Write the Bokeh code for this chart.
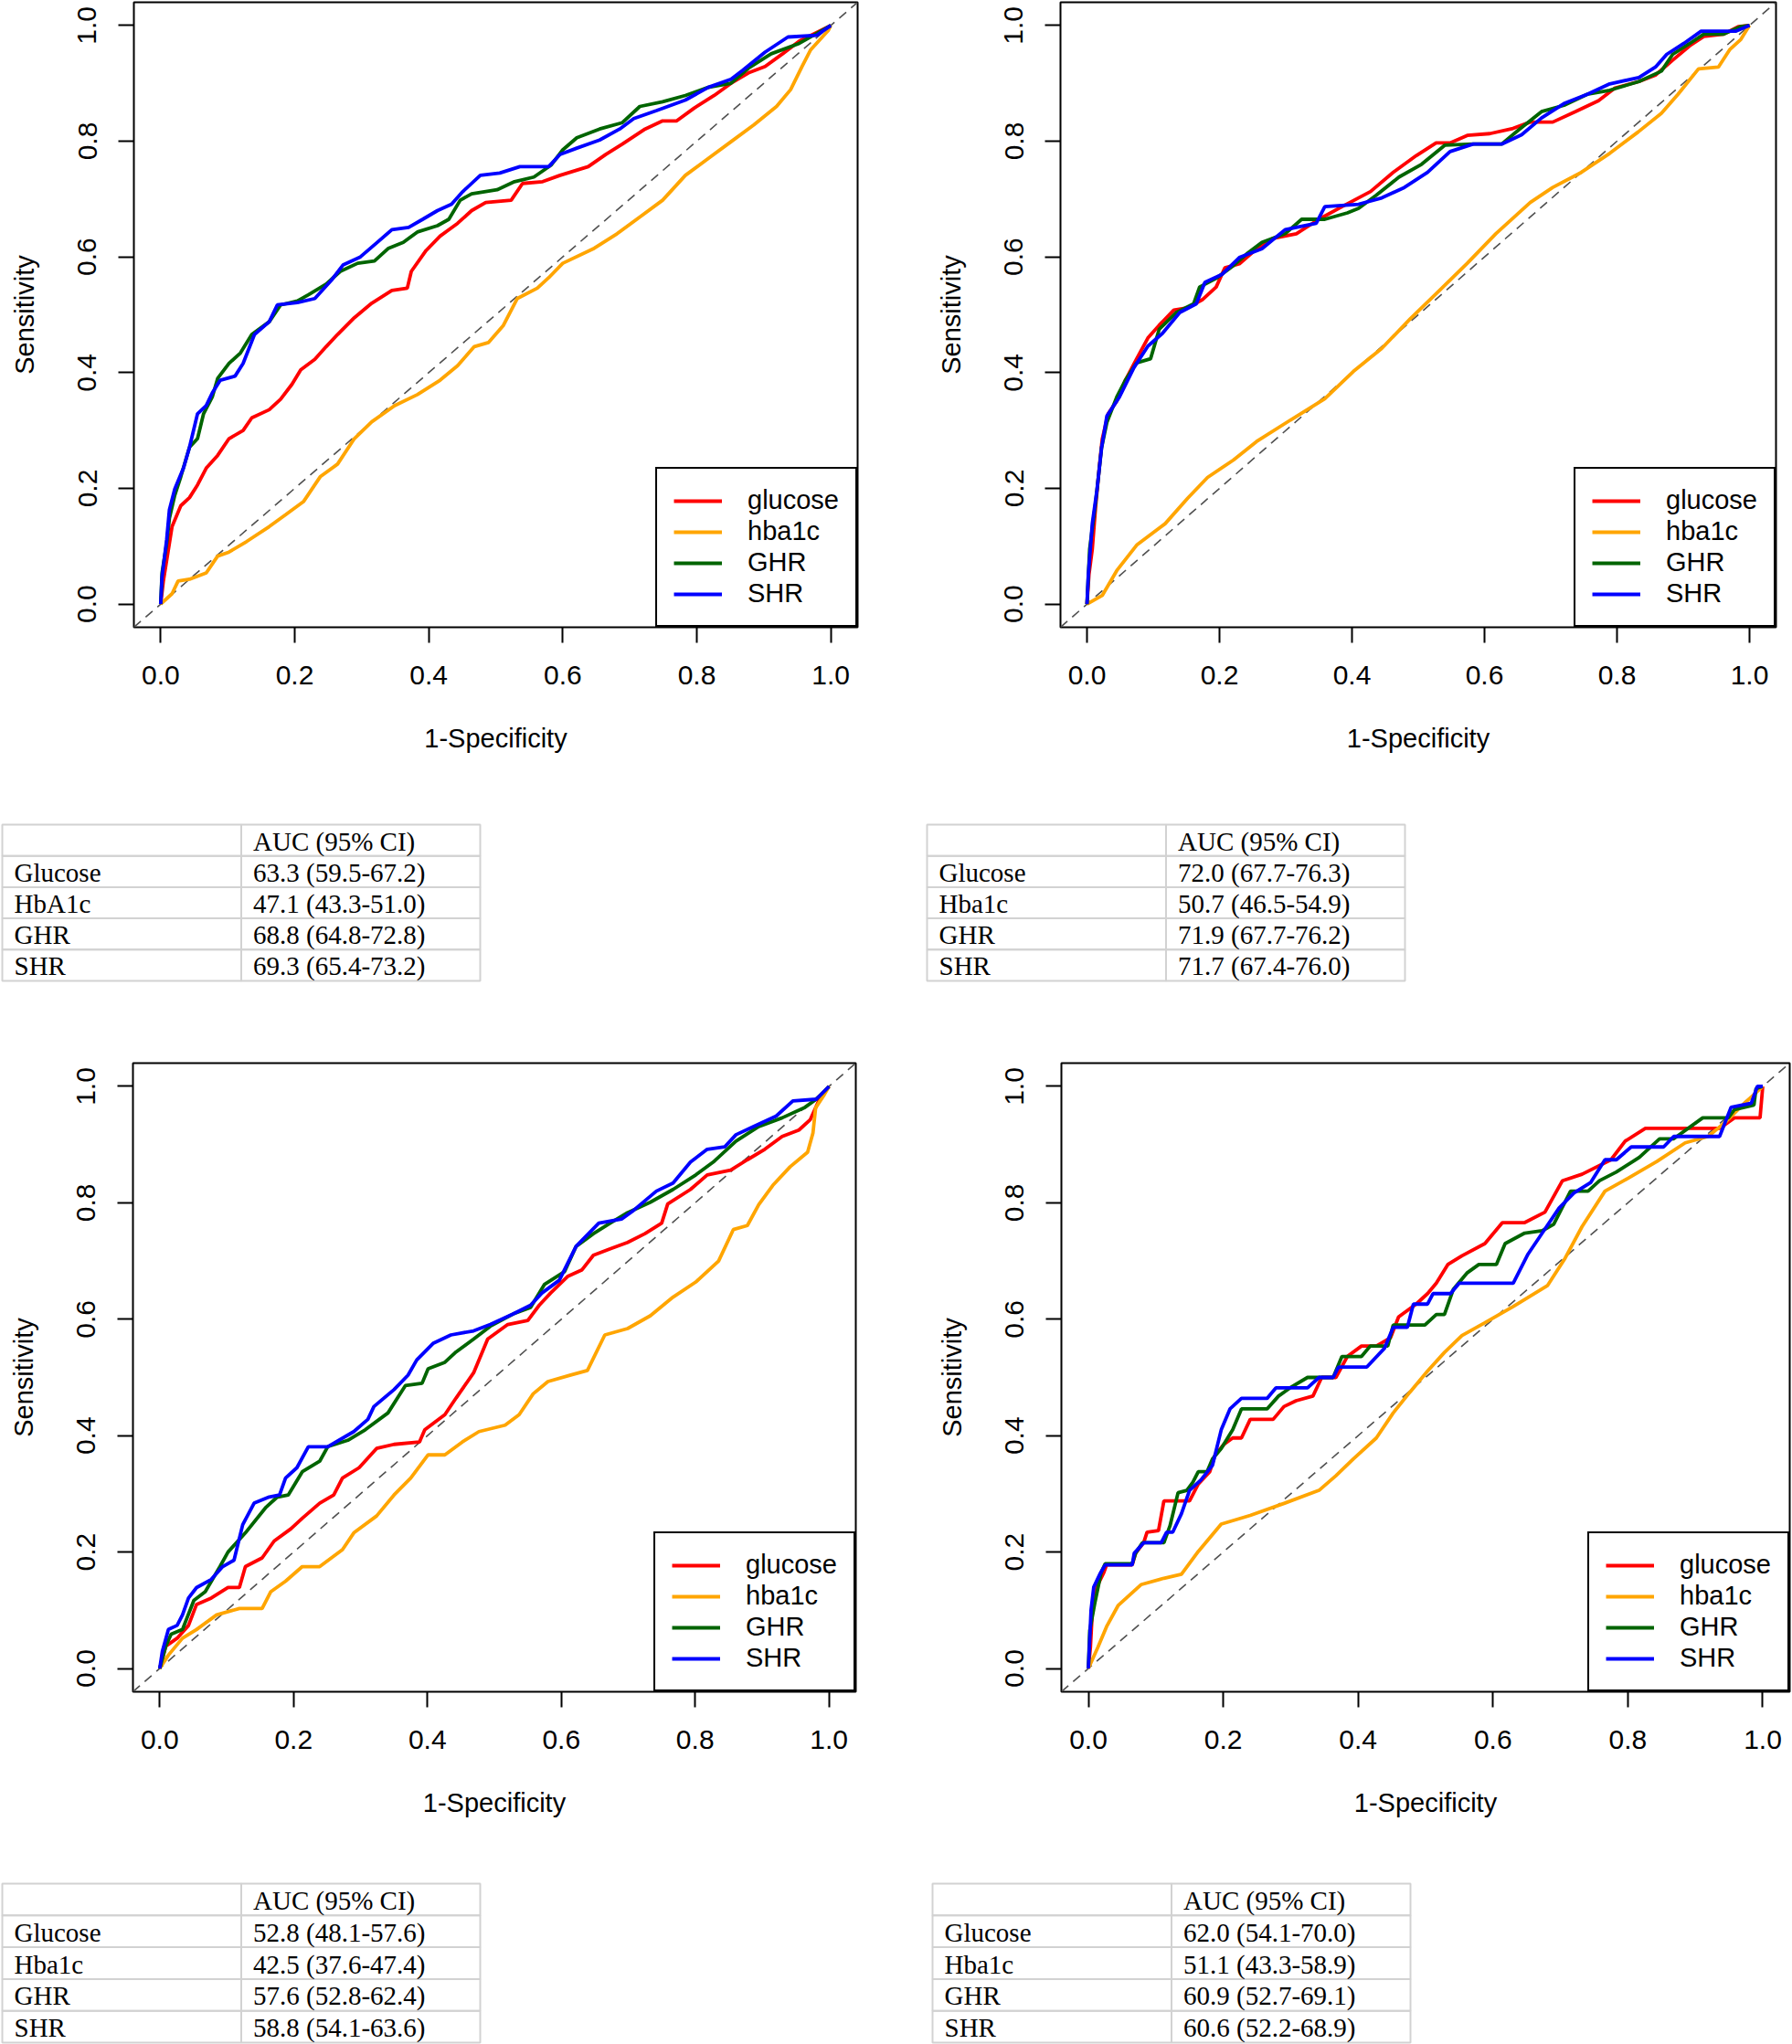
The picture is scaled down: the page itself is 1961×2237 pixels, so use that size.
from bokeh.plotting import figure
from bokeh.models import Range1d, FixedTicker, PrintfTickFormatter, Legend, LegendItem, Slope
from bokeh.layouts import column, row
from bokeh.core.properties import value
from bokeh.embed import file_html
from bokeh.resources import INLINE

# ---------------- data ----------------
SERIES_NAMES = ["glucose", "hba1c", "GHR", "SHR"]
SERIES_COLORS = ["#FF0000", "#FFA500", "#006400", "#0000FF"]
TICKS = [0.0, 0.2, 0.4, 0.6, 0.8, 1.0]
X_TITLE = "1-Specificity"
Y_TITLE = "Sensitivity"

# (1-specificity, sensitivity) points
TL_GLUCOSE = [(0, 0), (0.004, 0.04), (0.013, 0.105), (0.017, 0.134), (0.03, 0.17), (0.043, 0.184), (0.055, 0.206),
              (0.068, 0.235), (0.085, 0.257), (0.102, 0.286), (0.123, 0.30), (0.136, 0.322), (0.162, 0.336),
              (0.179, 0.354), (0.196, 0.38), (0.209, 0.405), (0.23, 0.423), (0.247, 0.445), (0.264, 0.466),
              (0.289, 0.495), (0.315, 0.52), (0.345, 0.542), (0.368, 0.546), (0.374, 0.575), (0.396, 0.611),
              (0.417, 0.636), (0.443, 0.658), (0.464, 0.68), (0.485, 0.694), (0.523, 0.698), (0.54, 0.727),
              (0.57, 0.73), (0.596, 0.741), (0.638, 0.756), (0.664, 0.777), (0.689, 0.795), (0.723, 0.821),
              (0.749, 0.835), (0.77, 0.835), (0.796, 0.857), (0.826, 0.879), (0.851, 0.9), (0.877, 0.918),
              (0.902, 0.929), (0.928, 0.951), (0.953, 0.973), (1, 1)]
TL_HBA1C = [(0, 0), (0.017, 0.018), (0.026, 0.04), (0.043, 0.043), (0.068, 0.054), (0.085, 0.083), (0.102, 0.09),
            (0.128, 0.108), (0.162, 0.134), (0.187, 0.155), (0.213, 0.177), (0.238, 0.22), (0.264, 0.242),
            (0.289, 0.286), (0.315, 0.315), (0.349, 0.343), (0.383, 0.362), (0.417, 0.387), (0.443, 0.412),
            (0.468, 0.445), (0.489, 0.452), (0.511, 0.481), (0.532, 0.528), (0.562, 0.546), (0.579, 0.564),
            (0.6, 0.589), (0.647, 0.615), (0.681, 0.64), (0.715, 0.669), (0.749, 0.698), (0.783, 0.741),
            (0.817, 0.77), (0.851, 0.799), (0.885, 0.828), (0.919, 0.86), (0.94, 0.889), (0.957, 0.929),
            (0.97, 0.958), (0.996, 0.991), (1, 1)]
TL_GHR = [(0, 0), (0.002, 0.054), (0.009, 0.105), (0.013, 0.148), (0.021, 0.188), (0.03, 0.22), (0.043, 0.271),
          (0.055, 0.286), (0.064, 0.329), (0.077, 0.358), (0.085, 0.39), (0.102, 0.416), (0.119, 0.434),
          (0.136, 0.466), (0.162, 0.488), (0.179, 0.517), (0.204, 0.524), (0.221, 0.535), (0.247, 0.553),
          (0.268, 0.575), (0.294, 0.589), (0.319, 0.593), (0.34, 0.615), (0.362, 0.625), (0.383, 0.643),
          (0.413, 0.654), (0.43, 0.665), (0.447, 0.698), (0.464, 0.709), (0.502, 0.716), (0.528, 0.73),
          (0.557, 0.738), (0.583, 0.759), (0.6, 0.785), (0.621, 0.806), (0.655, 0.821), (0.689, 0.832),
          (0.715, 0.86), (0.749, 0.868), (0.783, 0.879), (0.817, 0.893), (0.851, 0.9), (0.877, 0.926),
          (0.911, 0.951), (0.953, 0.969), (1, 1)]
TL_SHR = [(0, 0), (0.002, 0.047), (0.009, 0.112), (0.013, 0.163), (0.021, 0.199), (0.034, 0.235), (0.043, 0.271),
          (0.055, 0.329), (0.068, 0.343), (0.077, 0.365), (0.089, 0.387), (0.111, 0.394), (0.123, 0.416),
          (0.14, 0.466), (0.162, 0.488), (0.174, 0.517), (0.204, 0.521), (0.23, 0.528), (0.255, 0.56),
          (0.272, 0.586), (0.298, 0.6), (0.323, 0.625), (0.345, 0.647), (0.37, 0.651), (0.391, 0.665),
          (0.413, 0.68), (0.434, 0.691), (0.451, 0.713), (0.477, 0.741), (0.506, 0.745), (0.536, 0.756),
          (0.579, 0.756), (0.596, 0.777), (0.621, 0.788), (0.655, 0.802), (0.685, 0.821), (0.706, 0.839),
          (0.74, 0.853), (0.783, 0.871), (0.817, 0.893), (0.851, 0.907), (0.868, 0.922), (0.902, 0.954),
          (0.936, 0.98), (0.979, 0.983), (1, 1)]

TR_GLUCOSE = [(0, 0), (0.003, 0.051), (0.008, 0.095), (0.013, 0.168), (0.019, 0.241), (0.023, 0.285), (0.032, 0.329),
              (0.045, 0.351), (0.058, 0.387), (0.075, 0.424), (0.092, 0.46), (0.109, 0.482), (0.131, 0.508),
              (0.152, 0.512), (0.174, 0.526), (0.195, 0.548), (0.208, 0.581), (0.23, 0.588), (0.256, 0.614),
              (0.281, 0.632), (0.316, 0.64), (0.35, 0.665), (0.385, 0.687), (0.428, 0.713), (0.462, 0.746),
              (0.497, 0.775), (0.527, 0.797), (0.548, 0.797), (0.574, 0.81), (0.608, 0.813), (0.643, 0.822),
              (0.669, 0.833), (0.703, 0.833), (0.737, 0.851), (0.772, 0.87), (0.797, 0.892), (0.833, 0.903),
              (0.858, 0.914), (0.884, 0.94), (0.91, 0.965), (0.931, 0.981), (0.961, 0.985), (0.983, 0.998), (1, 1)]
TR_HBA1C = [(0, 0), (0.023, 0.015), (0.045, 0.058), (0.075, 0.102), (0.118, 0.139), (0.152, 0.183), (0.182, 0.219),
            (0.221, 0.249), (0.256, 0.281), (0.307, 0.318), (0.359, 0.355), (0.402, 0.402), (0.445, 0.442),
            (0.488, 0.493), (0.531, 0.541), (0.574, 0.589), (0.617, 0.64), (0.669, 0.694), (0.703, 0.72),
            (0.746, 0.746), (0.789, 0.779), (0.832, 0.816), (0.867, 0.848), (0.892, 0.881), (0.923, 0.925),
            (0.953, 0.928), (0.97, 0.958), (0.987, 0.976), (1, 1)]
TR_GHR = [(0, 0), (0.004, 0.095), (0.013, 0.175), (0.022, 0.27), (0.03, 0.314), (0.045, 0.358), (0.058, 0.387),
          (0.075, 0.417), (0.096, 0.424), (0.109, 0.475), (0.135, 0.504), (0.161, 0.519), (0.17, 0.548),
          (0.195, 0.563), (0.221, 0.585), (0.243, 0.607), (0.264, 0.625), (0.299, 0.64), (0.324, 0.665),
          (0.359, 0.665), (0.393, 0.676), (0.41, 0.684), (0.436, 0.706), (0.471, 0.738), (0.505, 0.76),
          (0.54, 0.793), (0.583, 0.795), (0.626, 0.795), (0.651, 0.819), (0.686, 0.851), (0.72, 0.862),
          (0.755, 0.881), (0.789, 0.888), (0.833, 0.903), (0.867, 0.921), (0.884, 0.95), (0.91, 0.969),
          (0.931, 0.985), (0.961, 0.985), (0.987, 0.998), (1, 1)]
TR_SHR = [(0, 0), (0.002, 0.051), (0.008, 0.139), (0.015, 0.197), (0.022, 0.27), (0.03, 0.325), (0.049, 0.358),
          (0.071, 0.409), (0.092, 0.446), (0.114, 0.468), (0.14, 0.504), (0.165, 0.519), (0.178, 0.556),
          (0.204, 0.57), (0.23, 0.599), (0.264, 0.614), (0.299, 0.647), (0.346, 0.658), (0.359, 0.687),
          (0.41, 0.691), (0.445, 0.702), (0.479, 0.72), (0.514, 0.746), (0.548, 0.782), (0.583, 0.795),
          (0.626, 0.795), (0.656, 0.811), (0.686, 0.84), (0.72, 0.865), (0.755, 0.881), (0.789, 0.899),
          (0.833, 0.91), (0.858, 0.928), (0.875, 0.95), (0.901, 0.969), (0.927, 0.99), (0.979, 0.99), (1, 1)]

BL_GLUCOSE = [(0, 0), (0.009, 0.038), (0.026, 0.052), (0.043, 0.074), (0.055, 0.11), (0.077, 0.121), (0.102, 0.139),
              (0.119, 0.139), (0.128, 0.175), (0.153, 0.19), (0.171, 0.219), (0.196, 0.24), (0.213, 0.258),
              (0.239, 0.284), (0.26, 0.298), (0.273, 0.327), (0.298, 0.345), (0.324, 0.378), (0.35, 0.385),
              (0.388, 0.389), (0.396, 0.41), (0.426, 0.436), (0.443, 0.465), (0.469, 0.508), (0.49, 0.566),
              (0.52, 0.591), (0.55, 0.598), (0.567, 0.624), (0.584, 0.645), (0.61, 0.674), (0.631, 0.685),
              (0.648, 0.71), (0.673, 0.721), (0.699, 0.732), (0.725, 0.747), (0.75, 0.765), (0.759, 0.798),
              (0.793, 0.823), (0.818, 0.848), (0.853, 0.856), (0.878, 0.874), (0.904, 0.892), (0.93, 0.914),
              (0.955, 0.925), (0.972, 0.943), (0.989, 0.986), (1, 1)]
BL_HBA1C = [(0, 0), (0.013, 0.023), (0.034, 0.052), (0.055, 0.067), (0.085, 0.092), (0.119, 0.103), (0.153, 0.103),
            (0.166, 0.132), (0.188, 0.15), (0.213, 0.175), (0.239, 0.175), (0.273, 0.204), (0.29, 0.233),
            (0.324, 0.262), (0.35, 0.298), (0.375, 0.327), (0.401, 0.367), (0.426, 0.367), (0.452, 0.389),
            (0.477, 0.407), (0.516, 0.418), (0.537, 0.436), (0.558, 0.472), (0.58, 0.493), (0.614, 0.504),
            (0.639, 0.512), (0.665, 0.573), (0.699, 0.584), (0.733, 0.606), (0.767, 0.638), (0.801, 0.664),
            (0.835, 0.7), (0.857, 0.754), (0.878, 0.761), (0.895, 0.797), (0.916, 0.83), (0.942, 0.862),
            (0.968, 0.887), (0.976, 0.92), (0.98, 0.963), (0.993, 0.986), (1, 1)]
BL_GHR = [(0, 0), (0.009, 0.038), (0.017, 0.059), (0.034, 0.067), (0.051, 0.117), (0.068, 0.132), (0.09, 0.175),
          (0.102, 0.2), (0.128, 0.233), (0.158, 0.276), (0.175, 0.294), (0.192, 0.298), (0.213, 0.338),
          (0.239, 0.356), (0.251, 0.381), (0.281, 0.392), (0.307, 0.41), (0.341, 0.439), (0.367, 0.486),
          (0.392, 0.49), (0.401, 0.515), (0.426, 0.526), (0.443, 0.544), (0.469, 0.566), (0.494, 0.588),
          (0.528, 0.609), (0.554, 0.62), (0.575, 0.66), (0.605, 0.682), (0.622, 0.725), (0.648, 0.747),
          (0.673, 0.765), (0.699, 0.783), (0.733, 0.801), (0.767, 0.823), (0.801, 0.848), (0.827, 0.87),
          (0.861, 0.906), (0.895, 0.931), (0.93, 0.946), (0.964, 0.964), (0.981, 0.978), (1, 1)]
BL_SHR = [(0, 0), (0.004, 0.03), (0.013, 0.067), (0.026, 0.074), (0.034, 0.092), (0.043, 0.121), (0.055, 0.139),
          (0.077, 0.153), (0.094, 0.175), (0.111, 0.186), (0.124, 0.247), (0.141, 0.284), (0.162, 0.294),
          (0.179, 0.298), (0.188, 0.327), (0.205, 0.345), (0.222, 0.381), (0.251, 0.381), (0.29, 0.407),
          (0.311, 0.428), (0.32, 0.45), (0.35, 0.479), (0.371, 0.504), (0.384, 0.53), (0.409, 0.559),
          (0.435, 0.573), (0.469, 0.58), (0.494, 0.591), (0.528, 0.609), (0.554, 0.624), (0.571, 0.645),
          (0.597, 0.667), (0.622, 0.725), (0.656, 0.765), (0.69, 0.772), (0.708, 0.787), (0.742, 0.82),
          (0.767, 0.834), (0.793, 0.87), (0.818, 0.892), (0.844, 0.896), (0.861, 0.917), (0.887, 0.931),
          (0.921, 0.949), (0.946, 0.975), (0.981, 0.978), (1, 1)]

BR_GLUCOSE = [(0, 0), (0.003, 0.036), (0.007, 0.122), (0.014, 0.144), (0.023, 0.165), (0.027, 0.178), (0.065, 0.178),
              (0.07, 0.198), (0.082, 0.216), (0.087, 0.234), (0.104, 0.237), (0.112, 0.288), (0.15, 0.288),
              (0.163, 0.317), (0.18, 0.338), (0.188, 0.367), (0.201, 0.385), (0.214, 0.396), (0.227, 0.396),
              (0.24, 0.428), (0.274, 0.428), (0.29, 0.45), (0.308, 0.46), (0.333, 0.468), (0.346, 0.5),
              (0.367, 0.5), (0.384, 0.536), (0.405, 0.554), (0.427, 0.554), (0.448, 0.568), (0.46, 0.604),
              (0.486, 0.626), (0.503, 0.644), (0.516, 0.662), (0.533, 0.694), (0.554, 0.709), (0.588, 0.73),
              (0.614, 0.766), (0.647, 0.766), (0.677, 0.784), (0.703, 0.838), (0.732, 0.849), (0.775, 0.874),
              (0.796, 0.906), (0.826, 0.928), (0.936, 0.928), (0.958, 0.946), (0.996, 0.946), (1, 1)]
BR_HBA1C = [(0, 0), (0.014, 0.036), (0.027, 0.072), (0.044, 0.108), (0.078, 0.144), (0.112, 0.155), (0.138, 0.162),
            (0.163, 0.201), (0.197, 0.248), (0.24, 0.263), (0.291, 0.284), (0.342, 0.306), (0.367, 0.331),
            (0.393, 0.36), (0.427, 0.396), (0.452, 0.439), (0.477, 0.475), (0.503, 0.511), (0.528, 0.543),
            (0.554, 0.572), (0.588, 0.594), (0.63, 0.622), (0.681, 0.658), (0.707, 0.705), (0.732, 0.759),
            (0.766, 0.82), (0.8, 0.842), (0.843, 0.871), (0.885, 0.903), (0.919, 0.914), (0.945, 0.939),
            (0.97, 0.968), (0.987, 0.986), (1, 1)]
BR_GHR = [(0, 0), (0.002, 0.065), (0.01, 0.115), (0.019, 0.165), (0.025, 0.18), (0.065, 0.18), (0.07, 0.198),
          (0.08, 0.216), (0.112, 0.216), (0.121, 0.245), (0.133, 0.302), (0.146, 0.306), (0.155, 0.32),
          (0.163, 0.338), (0.176, 0.338), (0.184, 0.36), (0.197, 0.378), (0.214, 0.41), (0.227, 0.446),
          (0.265, 0.446), (0.282, 0.468), (0.299, 0.482), (0.325, 0.5), (0.363, 0.5), (0.376, 0.536),
          (0.405, 0.536), (0.418, 0.554), (0.444, 0.554), (0.452, 0.59), (0.499, 0.59), (0.516, 0.608),
          (0.528, 0.608), (0.541, 0.651), (0.562, 0.68), (0.579, 0.694), (0.605, 0.694), (0.618, 0.73),
          (0.647, 0.748), (0.673, 0.752), (0.69, 0.763), (0.715, 0.82), (0.741, 0.82), (0.758, 0.838),
          (0.783, 0.853), (0.817, 0.878), (0.847, 0.91), (0.868, 0.91), (0.911, 0.946), (0.949, 0.946),
          (0.958, 0.96), (0.987, 0.968), (0.99, 0.996), (1, 1)]
BR_SHR = [(0, 0), (0.004, 0.101), (0.008, 0.14), (0.017, 0.162), (0.025, 0.178), (0.065, 0.178), (0.068, 0.198),
          (0.082, 0.216), (0.108, 0.216), (0.116, 0.234), (0.125, 0.234), (0.138, 0.266), (0.15, 0.306),
          (0.167, 0.324), (0.184, 0.349), (0.197, 0.41), (0.21, 0.446), (0.227, 0.464), (0.265, 0.464),
          (0.278, 0.482), (0.325, 0.482), (0.342, 0.5), (0.363, 0.5), (0.371, 0.518), (0.413, 0.518),
          (0.439, 0.55), (0.452, 0.586), (0.473, 0.586), (0.482, 0.626), (0.503, 0.626), (0.511, 0.644),
          (0.537, 0.644), (0.55, 0.662), (0.63, 0.662), (0.652, 0.712), (0.673, 0.748), (0.698, 0.791),
          (0.72, 0.817), (0.745, 0.835), (0.766, 0.874), (0.783, 0.874), (0.805, 0.896), (0.853, 0.896),
          (0.868, 0.914), (0.936, 0.914), (0.953, 0.964), (0.983, 0.971), (0.992, 1), (1, 1)]

# AUC tables
TABLE_HEADER = "AUC (95% CI)"
T1_LABELS = ["Glucose", "HbA1c", "GHR", "SHR"]
T1_VALUES = ["63.3 (59.5-67.2)", "47.1 (43.3-51.0)", "68.8 (64.8-72.8)", "69.3 (65.4-73.2)"]
T2_LABELS = ["Glucose", "Hba1c", "GHR", "SHR"]
T2_VALUES = ["72.0 (67.7-76.3)", "50.7 (46.5-54.9)", "71.9 (67.7-76.2)", "71.7 (67.4-76.0)"]
T3_LABELS = ["Glucose", "Hba1c", "GHR", "SHR"]
T3_VALUES = ["52.8 (48.1-57.6)", "42.5 (37.6-47.4)", "57.6 (52.8-62.4)", "58.8 (54.1-63.6)"]
T4_LABELS = ["Glucose", "Hba1c", "GHR", "SHR"]
T4_VALUES = ["62.0 (54.1-70.0)", "51.1 (43.3-58.9)", "60.9 (52.7-69.1)", "60.6 (52.2-68.9)"]

# ---------------- styling ----------------
SANS = "Liberation Sans"
SERIF = "Liberation Serif"


def roc_panel(curves, width, height, left, right, top, bottom):
    p = figure(width=width, height=height, output_backend="svg", toolbar_location=None, title=None,
               x_range=Range1d(-0.04, 1.04), y_range=Range1d(-0.04, 1.04),
               min_border_left=left, min_border_right=right, min_border_top=top, min_border_bottom=bottom)
    p.background_fill_color = "white"
    p.border_fill_color = "white"
    p.grid.visible = False
    p.outline_line_color = "black"
    p.outline_line_width = 2
    p.outline_line_alpha = 1.0
    p.add_layout(Slope(gradient=1, y_intercept=0, line_color="#505050", line_dash="10 7",
                       line_width=1.6, level="underlay"))
    items = []
    for name, color, pts in zip(SERIES_NAMES, SERIES_COLORS, curves):
        xs = [a for a, b in pts]
        ys = [b for a, b in pts]
        r = p.line(xs, ys, line_color=color, line_width=3.8)
        items.append(LegendItem(label=name, renderers=[r]))
    legend = Legend(items=items, location="bottom_right", margin=0, padding=18, spacing=1,
                    glyph_width=53, glyph_height=30, label_height=30, label_standoff=28,
                    border_line_color="black", border_line_width=2, border_line_alpha=1.0,
                    background_fill_color="white", background_fill_alpha=1.0,
                    label_text_font=SANS, label_text_font_size="29px", label_text_color="black")
    p.add_layout(legend)
    p.xaxis.axis_label = X_TITLE
    p.yaxis.axis_label = Y_TITLE
    for ax in (p.xaxis, p.yaxis):
        ax.ticker = FixedTicker(ticks=TICKS)
        ax.formatter = PrintfTickFormatter(format="%.1f")
        ax.axis_line_color = None
        ax.major_tick_in = 0
        ax.major_tick_out = 17
        ax.major_tick_line_width = 2
        ax.major_tick_line_color = "black"
        ax.minor_tick_line_color = None
        ax.major_label_text_font = SANS
        ax.major_label_text_font_size = "30px"
        ax.major_label_text_color = "black"
        ax.axis_label_text_font = SANS
        ax.axis_label_text_font_size = "29px"
        ax.axis_label_text_font_style = "normal"
        ax.axis_label_text_color = "black"
        ax.axis_label_standoff = 40
    p.xaxis.major_label_standoff = 25
    p.yaxis.major_label_standoff = 24
    p.yaxis.major_label_orientation = "vertical"
    return p


def table_panel(labels, values, width, height, left, right, top, bottom):
    row_labels = [""] + labels
    row_values = [TABLE_HEADER] + values
    n = len(row_labels)
    frame_w = width - left - right
    frame_h = height - top - bottom
    col_px = (frame_w - 4) / 2.0
    row_px = (frame_h - 4) / float(n)
    padx = 2.0 / col_px
    pady = 2.0 / row_px
    p = figure(width=width, height=height, output_backend="svg", toolbar_location=None, title=None,
               x_range=Range1d(-padx, 2 + padx), y_range=Range1d(n + pady, -pady),
               x_axis_location=None, y_axis_location=None,
               min_border_left=left, min_border_right=right, min_border_top=top, min_border_bottom=bottom)
    p.grid.visible = False
    p.outline_line_color = None
    p.background_fill_color = "white"
    p.border_fill_color = "white"
    cell_x = [c + 0.5 for r in range(n) for c in range(2)]
    cell_y = [r + 0.5 for r in range(n) for c in range(2)]
    p.rect(x=cell_x, y=cell_y, width=1, height=1, fill_color=None,
           line_color="#d2d2d2", line_width=2)
    tx = [0] * n + [1] * n
    ty = [r + 0.5 for r in range(n)] * 2
    p.text(x=tx, y=ty, text=row_labels + row_values, x_offset=13, y_offset=1,
           text_align="left", text_baseline="middle",
           text_font=value(SERIF), text_font_size="29px", text_color="black")
    return p


tl = roc_panel([TL_GLUCOSE, TL_HBA1C, TL_GHR, TL_SHR], 1010, 890, 146, 72, 2, 204)
tr = roc_panel([TR_GLUCOSE, TR_HBA1C, TR_GHR, TR_SHR], 951, 890, 150, 18, 2, 204)
t1 = table_panel(T1_LABELS, T1_VALUES, 1010, 260, 0, 483, 10, 71)
t2 = table_panel(T2_LABELS, T2_VALUES, 951, 260, 2, 422, 6, 75)
bl = roc_panel([BL_GLUCOSE, BL_HBA1C, BL_GHR, BL_SHR], 1010, 890, 145, 74, 13, 189)
br = roc_panel([BR_GLUCOSE, BR_HBA1C, BR_GHR, BR_SHR], 951, 890, 151, 3, 13, 189)
t3 = table_panel(T3_LABELS, T3_VALUES, 1010, 197, 0, 483, 19, 0)
t4 = table_panel(T4_LABELS, T4_VALUES, 951, 197, 8, 416, 19, 0)

layout = column(row(tl, tr), row(t1, t2), row(bl, br), row(t3, t4))

with open("out.html", "w") as f:
    f.write(file_html(layout, INLINE))
